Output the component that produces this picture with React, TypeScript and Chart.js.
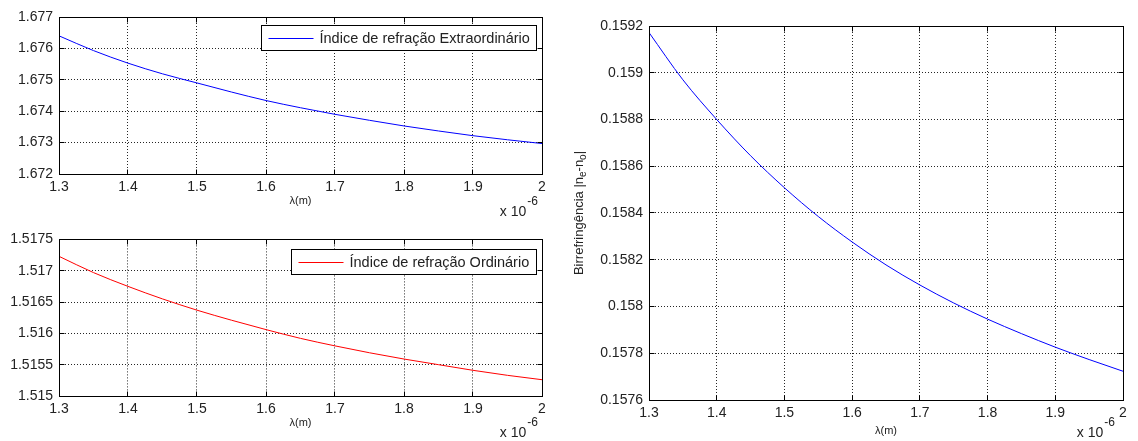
import { useEffect, useRef } from "react";
import { Chart, registerables } from "chart.js";

Chart.register(...registerables);

// ---------- data (x in units of 1e-6 m) ----------
const WAVELENGTH = [1.3, 1.35, 1.4, 1.45, 1.5, 1.55, 1.6, 1.65, 1.7, 1.75, 1.8, 1.85, 1.9, 1.95, 2.0];
const N_EXTRAORDINARY = [1.6764, 1.67593, 1.67553, 1.67519, 1.6749, 1.67461, 1.67434, 1.67411, 1.6739, 1.67371, 1.67353, 1.67337, 1.67322, 1.67309, 1.67297];
const N_ORDINARY = [1.51723, 1.51697, 1.51675, 1.51655, 1.51637, 1.51621, 1.51606, 1.51592, 1.5158, 1.51569, 1.51559, 1.5155, 1.51541, 1.51533, 1.51526];
const BIREFRINGENCE = [0.159172, 0.15897, 0.1588, 0.158645, 0.158508, 0.158385, 0.158276, 0.158178, 0.158092, 0.158015, 0.157946, 0.157884, 0.157826, 0.157773, 0.157723];

const X_TICKS = [1.3, 1.4, 1.5, 1.6, 1.7, 1.8, 1.9, 2.0];
const X_TICK_LABELS = ["1.3", "1.4", "1.5", "1.6", "1.7", "1.8", "1.9", "2"];
const NE_TICKS = [1.672, 1.673, 1.674, 1.675, 1.676, 1.677];
const NE_TICK_LABELS = ["1.672", "1.673", "1.674", "1.675", "1.676", "1.677"];
const NO_TICKS = [1.515, 1.5155, 1.516, 1.5165, 1.517, 1.5175];
const NO_TICK_LABELS = ["1.515", "1.5155", "1.516", "1.5165", "1.517", "1.5175"];
const BI_TICKS = [0.1576, 0.1578, 0.158, 0.1582, 0.1584, 0.1586, 0.1588, 0.159, 0.1592];
const BI_TICK_LABELS = ["0.1576", "0.1578", "0.158", "0.1582", "0.1584", "0.1586", "0.1588", "0.159", "0.1592"];

const LEGEND_NE = "Índice de refração Extraordinário";
const LEGEND_NO = "Índice de refração Ordinário";
const X_TITLE = "λ(m)";

const FONT = '"Liberation Sans", Arial, Helvetica, sans-serif';
const TEXT = "#222";
const TICK_LEN = 5;

const al = (p: number) => Math.round(p - 0.5) + 0.5;

type Decor = {
  key: string;
  xTicks: number[];
  yTicks: number[];
  legend?: { text: string; color: string; dy: number };
  xTitleDy: number;
  expDy: number;
  expRight: number;
  yTitle?: boolean;
};

function decorPlugin(o: Decor) {
  return {
    id: "decor_" + o.key,
    afterDraw(chart: any) {
      const { ctx, chartArea: a, scales } = chart;
      const L = al(a.left), R = al(a.right), T = al(a.top), B = al(a.bottom);
      ctx.save();
      ctx.setLineDash([]);
      ctx.lineWidth = 1;
      ctx.strokeStyle = "#000";
      ctx.beginPath();
      for (const v of o.xTicks) {
        const x = al(scales.x.getPixelForValue(v));
        ctx.moveTo(x, B); ctx.lineTo(x, B - TICK_LEN);
        ctx.moveTo(x, T); ctx.lineTo(x, T + TICK_LEN);
      }
      for (const v of o.yTicks) {
        const y = al(scales.y.getPixelForValue(v));
        ctx.moveTo(L, y); ctx.lineTo(L + TICK_LEN, y);
        ctx.moveTo(R, y); ctx.lineTo(R - TICK_LEN, y);
      }
      ctx.stroke();
      ctx.strokeRect(L, T, R - L, B - T);

      if (o.legend) {
        ctx.font = "14.5px " + FONT;
        const tw = ctx.measureText(o.legend.text).width;
        const w = Math.round(7 + 45 + 6 + tw + 7);
        const h = 25;
        const x0 = al(a.right - 6 - w);
        const y0 = al(a.top + o.legend.dy);
        ctx.fillStyle = "#fff";
        ctx.fillRect(x0, y0, w, h);
        ctx.strokeStyle = "#000";
        ctx.strokeRect(x0, y0, w, h);
        ctx.strokeStyle = o.legend.color;
        ctx.beginPath();
        ctx.moveTo(x0 + 7, al(y0 + h / 2));
        ctx.lineTo(x0 + 52, al(y0 + h / 2));
        ctx.stroke();
        ctx.fillStyle = TEXT;
        ctx.textAlign = "left";
        ctx.textBaseline = "middle";
        ctx.fillText(o.legend.text, x0 + 58, y0 + h / 2 + 1);
      }

      ctx.fillStyle = TEXT;
      ctx.font = "11px " + FONT;
      ctx.textAlign = "center";
      ctx.textBaseline = "middle";
      ctx.fillText(X_TITLE, (a.left + a.right) / 2, a.bottom + o.xTitleDy);

      ctx.textAlign = "left";
      ctx.font = "14px " + FONT;
      const w1 = ctx.measureText("x 10").width;
      ctx.font = "12px " + FONT;
      const w2 = ctx.measureText("-6").width;
      const xs = a.right - o.expRight - w1 - w2 - 1;
      ctx.font = "14px " + FONT;
      ctx.fillText("x 10", xs, a.bottom + o.expDy);
      ctx.font = "12px " + FONT;
      ctx.fillText("-6", xs + w1 + 1, a.bottom + o.expDy - 10);

      if (o.yTitle) {
        const segs: [string, boolean][] = [
          ["Birrefringência |n", false],
          ["e", true],
          ["-n", false],
          ["o", true],
          ["|", false],
        ];
        const big = "13px " + FONT, small = "10px " + FONT;
        let total = 0;
        for (const [s, sub] of segs) {
          ctx.font = sub ? small : big;
          total += ctx.measureText(s).width;
        }
        ctx.translate(a.left - 66, (a.top + a.bottom) / 2);
        ctx.rotate(-Math.PI / 2);
        ctx.textBaseline = "alphabetic";
        let x = -total / 2;
        for (const [s, sub] of segs) {
          ctx.font = sub ? small : big;
          ctx.fillText(s, x, sub ? 3 : 0);
          x += ctx.measureText(s).width;
        }
      }
      ctx.restore();
    },
  };
}

function makeChart(
  canvas: HTMLCanvasElement,
  values: number[],
  color: string,
  yMin: number,
  yMax: number,
  yTicks: number[],
  yLabels: string[],
  yWidth: number,
  xHeight: number,
  pad: { top: number; right: number },
  decor: Decor
) {
  const tickFont = { family: FONT, size: 14 };
  return new Chart(canvas, {
    type: "line",
    data: {
      datasets: [
        {
          data: WAVELENGTH.map((x, i) => ({ x, y: values[i] })),
          borderColor: color,
          borderWidth: 1,
          pointRadius: 0,
          fill: false,
          cubicInterpolationMode: "monotone",
        },
      ],
    },
    options: {
      animation: false,
      responsive: false,
      events: [],
      layout: { padding: { top: pad.top, right: pad.right, left: 0, bottom: 0 } },
      plugins: { legend: { display: false }, title: { display: false }, tooltip: { enabled: false } },
      scales: {
        x: {
          type: "linear",
          min: 1.3,
          max: 2.0,
          afterBuildTicks: (s: any) => {
            s.ticks = X_TICKS.map((value) => ({ value }));
          },
          afterFit: (s: any) => {
            s.height = xHeight;
          },
          ticks: {
            autoSkip: false,
            maxRotation: 0,
            padding: 5,
            color: TEXT,
            font: tickFont,
            callback: (_v: any, i: number) => X_TICK_LABELS[i],
          },
          grid: { color: "rgba(0,0,0,0.85)", lineWidth: 1, drawTicks: false },
          border: { display: false, dash: [1, 2] },
        },
        y: {
          type: "linear",
          min: yMin,
          max: yMax,
          afterBuildTicks: (s: any) => {
            s.ticks = yTicks.map((value) => ({ value }));
          },
          afterFit: (s: any) => {
            s.width = yWidth;
          },
          ticks: {
            autoSkip: false,
            padding: 6,
            color: TEXT,
            font: tickFont,
            callback: (_v: any, i: number) => yLabels[i],
          },
          grid: { color: "rgba(0,0,0,0.85)", lineWidth: 1, drawTicks: false },
          border: { display: false, dash: [1, 2] },
        },
      },
    },
    plugins: [decorPlugin(decor)],
  } as any);
}

export default function App() {
  const r1 = useRef<HTMLCanvasElement>(null);
  const r2 = useRef<HTMLCanvasElement>(null);
  const r3 = useRef<HTMLCanvasElement>(null);

  useEffect(() => {
    const c1 = makeChart(r1.current!, N_EXTRAORDINARY, "#0000ff", 1.672, 1.677, NE_TICKS, NE_TICK_LABELS, 59, 51, { top: 17, right: 18 }, {
      key: "ne",
      xTicks: X_TICKS,
      yTicks: NE_TICKS,
      legend: { text: LEGEND_NE, color: "#0000ff", dy: 8 },
      xTitleDy: 27,
      expDy: 38,
      expRight: 4,
    });
    const c2 = makeChart(r2.current!, N_ORDINARY, "#ff0000", 1.515, 1.5175, NO_TICKS, NO_TICK_LABELS, 59, 45, { top: 12, right: 18 }, {
      key: "no",
      xTicks: X_TICKS,
      yTicks: NO_TICKS,
      legend: { text: LEGEND_NO, color: "#ff0000", dy: 10 },
      xTitleDy: 27,
      expDy: 37,
      expRight: 4,
    });
    const c3 = makeChart(r3.current!, BIREFRINGENCE, "#0000ff", 0.1576, 0.1592, BI_TICKS, BI_TICK_LABELS, 89, 41, { top: 26, right: 15 }, {
      key: "bi",
      xTicks: X_TICKS,
      yTicks: BI_TICKS,
      xTitleDy: 31,
      expDy: 33,
      expRight: 8,
      yTitle: true,
    });
    return () => {
      c1.destroy();
      c2.destroy();
      c3.destroy();
    };
  }, []);

  return (
    <div style={{ position: "absolute", left: 0, top: 0, width: 1138, height: 441, background: "#fff", overflow: "hidden" }}>
      <canvas ref={r1} width={560} height={225} style={{ position: "absolute", left: 0, top: 0, width: 560, height: 225 }} />
      <canvas ref={r2} width={560} height={216} style={{ position: "absolute", left: 0, top: 225, width: 560, height: 216 }} />
      <canvas ref={r3} width={578} height={441} style={{ position: "absolute", left: 560, top: 0, width: 578, height: 441 }} />
    </div>
  );
}
